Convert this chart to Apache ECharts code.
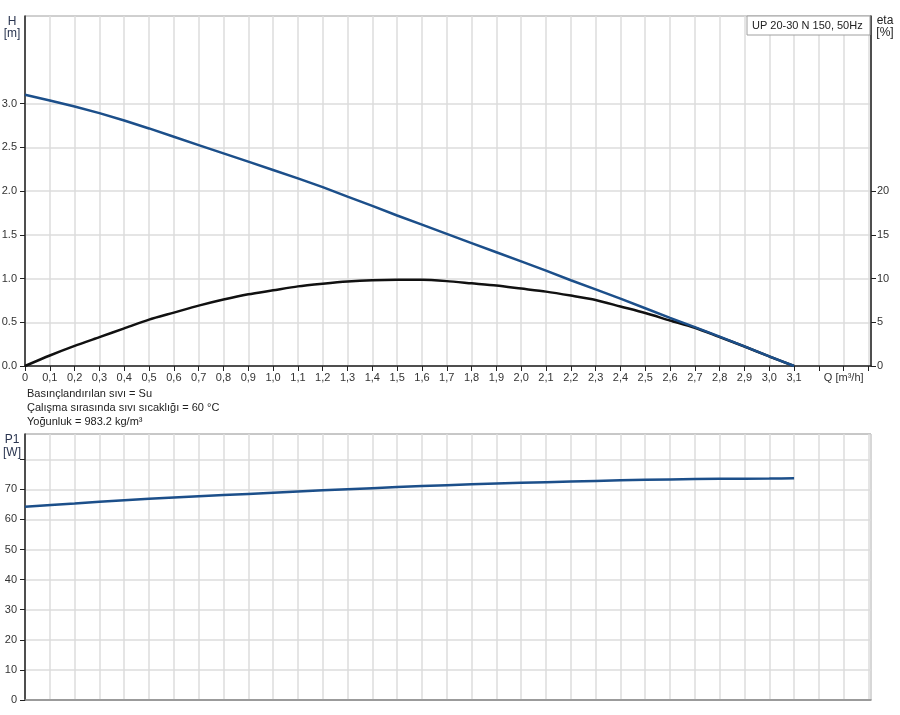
<!DOCTYPE html>
<html>
<head>
<meta charset="utf-8">
<script src="https://cdn.jsdelivr.net/npm/echarts@6/dist/echarts.min.js"></script>
<style>html,body{margin:0;padding:0;background:#fff}#c{width:900px;height:715px}</style>
</head>
<body>
<div id="c"></div>
<script>
// Flow Q [m³/h]
const qValues = [0,0.1,0.2,0.3,0.4,0.5,0.6,0.7,0.8,0.9,1.0,1.1,1.2,1.3,1.4,1.5,1.6,1.7,1.8,1.9,2.0,2.1,2.2,2.3,2.4,2.5,2.6,2.7,2.8,2.9,3.0,3.1];
// Head H [m]
const headValues = [3.10,3.035,2.965,2.89,2.805,2.715,2.62,2.525,2.43,2.335,2.24,2.145,2.045,1.935,1.83,1.72,1.615,1.51,1.405,1.30,1.195,1.09,0.98,0.875,0.77,0.66,0.55,0.445,0.335,0.225,0.11,0];
// Efficiency eta [%]
const etaValues = [0,1.2,2.3,3.3,4.3,5.3,6.1,6.9,7.6,8.2,8.65,9.1,9.4,9.65,9.8,9.85,9.85,9.7,9.45,9.2,8.85,8.5,8.05,7.55,6.8,6.05,5.2,4.37,3.3,2.23,1.09,0];
// Power input P1 [W]
const p1Q = [0,0.2,0.4,0.6,0.8,1.0,1.2,1.4,1.6,1.8,2.0,2.2,2.4,2.6,2.8,3.0,3.1];
const p1Values = [64.2,65.3,66.4,67.3,68.1,68.9,69.7,70.4,71.1,71.7,72.2,72.6,73.0,73.3,73.5,73.6,73.7];
// tick labels
const headTicks = [0,0.5,1.0,1.5,2.0,2.5,3.0];
const etaTicks = [0,5,10,15,20];
const p1LabelTicks = [0,10,20,30,40,50,60,70];
const p1TickMarks = [0,10,20,30,40,50,60,70,80];
const qLabelMax = 3.1;
const qUnitLabel = 'Q [m³/h]';
const infoLines = ['Basınçlandırılan sıvı = Su','Çalışma sırasında sıvı sıcaklığı = 60 °C','Yoğunluk = 983.2 kg/m³'];
const pumpName = 'UP 20-30 N 150, 50Hz';

const FONT = 'Liberation Sans, Arial, sans-serif';
const FS = 11;
const chart = echarts.init(document.getElementById('c'));
const pair = (xs, ys) => xs.map((x, i) => [x, ys[i]]);

const gridLine = {show: true, lineStyle: {color: '#dcdcdc', width: 1.5}};
const xBase = {
  type: 'value', min: 0, max: 3.41, interval: 0.1,
  splitLine: gridLine
};

chart.setOption({
  animation: false,
  grid: [
    {left: 25, right: 29, top: 16, height: 350, show: true, borderColor: '#a0a0a0', borderWidth: 1,
     containLabel: false, outerBoundsMode: 'none'},
    {left: 25, right: 29, top: 434, height: 266, show: true, borderColor: '#909090', borderWidth: 1,
     containLabel: false, outerBoundsMode: 'none'}
  ],
  xAxis: [
    Object.assign({}, xBase, {
      gridIndex: 0,
      axisLine: {show: true, onZero: false, lineStyle: {color: '#222', width: 1.5}},
      axisTick: {show: true, length: 5, lineStyle: {color: '#222'}},
      axisLabel: {
        show: true, color: '#333', fontSize: FS, fontFamily: FONT, margin: 6,
        showMaxLabel: false,
        formatter: function (v) {
          const k = Math.round(v * 10);
          if (k === 0) return '0';
          if (k <= Math.round(qLabelMax * 10)) return (k / 10).toFixed(1).replace('.', ',');
          if (k === 33) return qUnitLabel;
          return '';
        }
      }
    }),
    Object.assign({}, xBase, {
      gridIndex: 1,
      axisLine: {show: true, onZero: false, lineStyle: {color: '#888', width: 1.5}},
      axisTick: {show: false},
      axisLabel: {show: false}
    })
  ],
  yAxis: [
    {
      type: 'value', gridIndex: 0, min: 0, max: 4, interval: 0.5, position: 'left',
      splitLine: gridLine,
      axisLine: {show: true, onZero: false, lineStyle: {color: '#222', width: 1.5}},
      axisTick: {show: true, length: 5, customValues: headTicks, lineStyle: {color: '#222'}},
      axisLabel: {color: '#333', fontSize: FS, fontFamily: FONT, margin: 8, customValues: headTicks,
        formatter: v => v.toFixed(1)}
    },
    {
      type: 'value', gridIndex: 0, min: 0, max: 40, interval: 5, position: 'right',
      splitLine: {show: false},
      axisLine: {show: true, onZero: false, lineStyle: {color: '#222', width: 1.5}},
      axisTick: {show: true, length: 5, customValues: etaTicks, lineStyle: {color: '#222'}},
      axisLabel: {color: '#333', fontSize: FS, fontFamily: FONT, margin: 6, customValues: etaTicks,
        formatter: v => String(v)}
    },
    {
      type: 'value', gridIndex: 1, min: 0, max: 88.4, interval: 10, position: 'left',
      splitLine: gridLine,
      axisLine: {show: true, onZero: false, lineStyle: {color: '#222', width: 1.5}},
      axisTick: {show: true, length: 5, customValues: p1TickMarks, lineStyle: {color: '#222'}},
      axisLabel: {color: '#333', fontSize: FS, fontFamily: FONT, margin: 8, customValues: p1LabelTicks,
        formatter: v => String(v)}
    }
  ],
  series: [
    {
      type: 'line', xAxisIndex: 0, yAxisIndex: 1, data: pair(qValues, etaValues),
      smooth: 0.25, showSymbol: false, symbol: 'none',
      lineStyle: {color: '#111', width: 2.5}, z: 3
    },
    {
      type: 'line', xAxisIndex: 0, yAxisIndex: 0, data: pair(qValues, headValues),
      smooth: false, showSymbol: false, symbol: 'none',
      lineStyle: {color: '#1c4f8a', width: 2.5}, z: 4
    },
    {
      type: 'line', xAxisIndex: 1, yAxisIndex: 2, data: pair(p1Q, p1Values),
      smooth: 0.2, showSymbol: false, symbol: 'none',
      lineStyle: {color: '#1c4f8a', width: 2.5}, z: 4
    }
  ],
  graphic: [
    {type: 'rect', shape: {x: 747, y: 16, width: 123, height: 19}, style: {fill: '#fff', stroke: '#a0a0a0', lineWidth: 1}, z: 100},
    {type: 'text', x: 752, y: 25.5, style: {text: pumpName, fill: '#222', font: FS + 'px ' + FONT, textVerticalAlign: 'middle'}, z: 101},
    {type: 'text', x: 12, y: 22, style: {text: 'H', fill: '#2a3550', font: '12px ' + FONT, textAlign: 'center', textVerticalAlign: 'middle'}},
    {type: 'text', x: 12, y: 34, style: {text: '[m]', fill: '#2a3550', font: '12px ' + FONT, textAlign: 'center', textVerticalAlign: 'middle'}},
    {type: 'text', x: 885, y: 21, style: {text: 'eta', fill: '#222', font: '12px ' + FONT, textAlign: 'center', textVerticalAlign: 'middle'}},
    {type: 'text', x: 885, y: 33, style: {text: '[%]', fill: '#222', font: '12px ' + FONT, textAlign: 'center', textVerticalAlign: 'middle'}},
    {type: 'text', x: 12, y: 440, style: {text: 'P1', fill: '#2a3550', font: '12px ' + FONT, textAlign: 'center', textVerticalAlign: 'middle'}},
    {type: 'text', x: 12, y: 453, style: {text: '[W]', fill: '#2a3550', font: '12px ' + FONT, textAlign: 'center', textVerticalAlign: 'middle'}},
    {type: 'text', x: 27, y: 394, style: {text: infoLines[0], fill: '#222', font: FS + 'px ' + FONT, textVerticalAlign: 'middle'}},
    {type: 'text', x: 27, y: 408, style: {text: infoLines[1], fill: '#222', font: FS + 'px ' + FONT, textVerticalAlign: 'middle'}},
    {type: 'text', x: 27, y: 422, style: {text: infoLines[2], fill: '#222', font: FS + 'px ' + FONT, textVerticalAlign: 'middle'}}
  ]
});
</script>
</body>
</html>
